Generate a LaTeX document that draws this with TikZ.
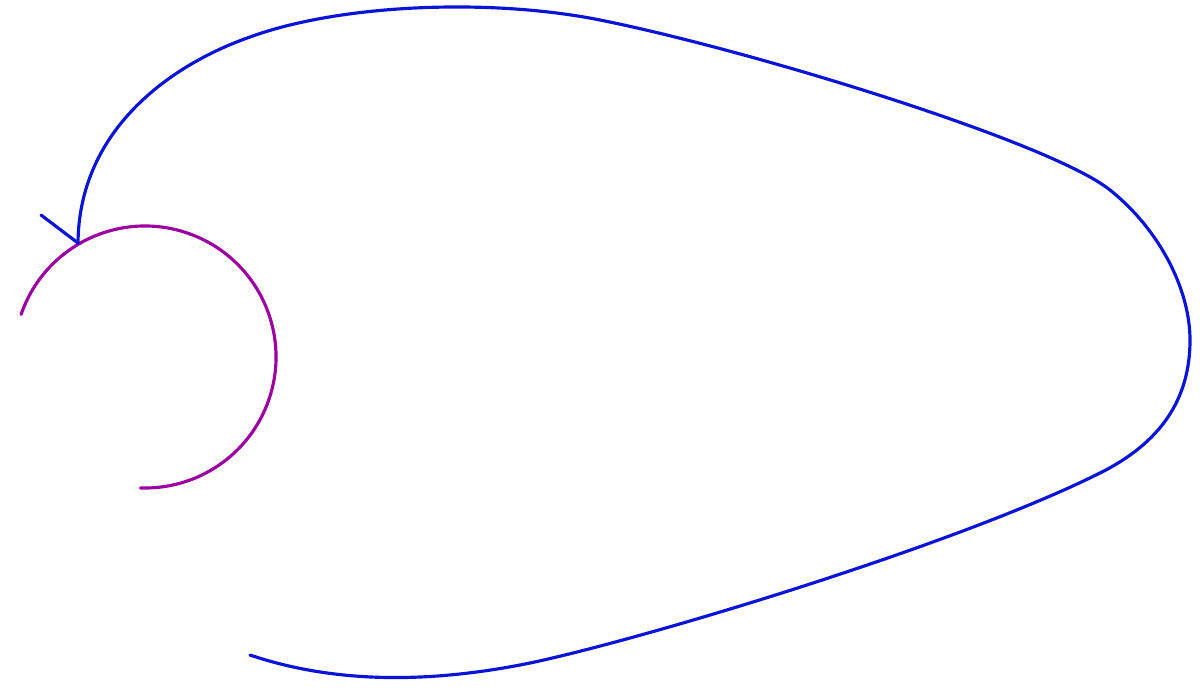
\documentclass[tikz,border=0pt]{standalone}
\begin{document}
\begin{tikzpicture}[x=0.02cm,y=-0.02cm]
\definecolor{pcol}{RGB}{155,0,160}
\definecolor{bcol}{RGB}{10,20,215}
\tikzset{bluecurve/.style={draw=bcol, line width=1.8pt, line cap=round, line join=round},
  purplecurve/.style={draw=pcol, line width=1.8pt, line cap=round}}
\useasboundingbox (0,0) rectangle (1200,690);
\coordinate (c) at (145,357);
\coordinate (start) at (250,655);
\coordinate (b1) at (520,665);
\coordinate (b2) at (1100,473);
\coordinate (right) at (1190,340);
\coordinate (t1) at (1110,190);
\coordinate (t2) at (600,20);
\coordinate (t3) at (250,37);
\coordinate (tip) at (78,243);
\coordinate (barb) at (41,215);
\draw[purplecurve] ([shift={(-161:131)}]c) arc[start angle=-161, end angle=92, radius=131];
\draw[bluecurve] (start)
  .. controls (330,682) and (420,684) .. (b1)
  .. controls (620,646) and (950,548) .. (b2)
  .. controls (1160,443) and (1190,400) .. (right)
  .. controls (1190,290) and (1160,230) .. (t1)
  .. controls (1050,142) and (750,50) .. (t2)
  .. controls (490,-2) and (340,4) .. (t3)
  .. controls (170,65) and (79,130) .. (tip);
\draw[bluecurve] (barb) -- (tip);
\end{tikzpicture}
\end{document}
